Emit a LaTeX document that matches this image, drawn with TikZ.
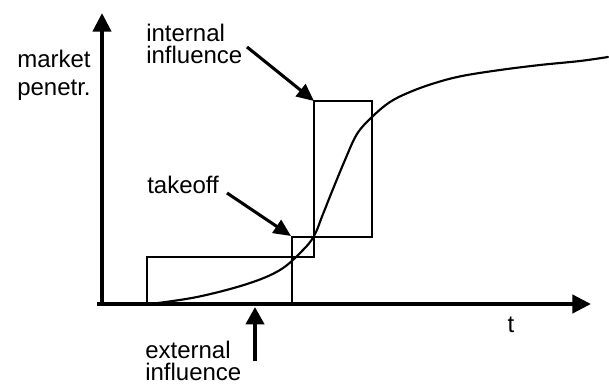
\documentclass[tikz,border=0pt]{standalone}
\usepackage{fontspec}
\setmainfont{Liberation Sans}
\usetikzlibrary{arrows.meta}
\begin{document}
\begin{tikzpicture}[x=0.75pt,y=-0.75pt,
  lbl/.style={anchor=base west,inner sep=0pt,font=\fontsize{18}{20}\selectfont},
  axis/.style={line width=3.2pt,-{Triangle[length=14pt,width=13.5pt]}},
  pointer/.style={line width=2.3pt,-{Triangle[length=13pt,width=11.5pt]}},
  frame/.style={line width=1.5pt,line join=miter},
  growth/.style={line width=1.6pt,line cap=round,line join=round}]
\useasboundingbox (0,0) rectangle (609,384);

% axes
\coordinate (xstart) at (97,304);
\coordinate (xend) at (591,304);
\coordinate (ybase) at (102,305);
\coordinate (yend) at (102,13);
\draw[axis] (ybase) -- (yend);
\draw[axis] (xstart) -- (xend);

% phase boxes
\draw[frame] (147,304) -- (147,257) -- (314,257) -- (314,101) -- (372,101)
  -- (372,237) -- (292,237) -- (292,304);

% diffusion curve
\draw[growth] plot[smooth,tension=0.6] coordinates {
  (150,304) (197,297) (247,284) (280,270) (302,251) (314,236)
  (323,214) (333,189) (345,160) (357,134) (372,117) (390,102)
  (410,92) (435,83) (462,76) (500,70) (540,65) (580,61) (608,57)};

% labels
\node[lbl] (m1) at (17,68) {market};
\node[lbl] (m2) at (17,96) {penetr.};
\node[lbl] (i1) at (146,42) {internal};
\node[lbl] (i2) at (146,64) {influence};
\node[lbl] (tk) at (147,194) {takeoff};
\node[lbl] (e1) at (145,358) {external};
\node[lbl] (e2) at (145,380) {influence};
\node[lbl,anchor=base] (tl) at (511,332) {t};

% pointers
\coordinate (ifrom) at (247,47);
\coordinate (ito) at (314,101);
\coordinate (tfrom) at (227,193);
\coordinate (tto) at (291,236);
\coordinate (efrom) at (255,361);
\coordinate (eto) at (255,307);
\draw[pointer] (ifrom) -- (ito);
\draw[pointer] (tfrom) -- (tto);
\draw[pointer,line width=3pt,-{Triangle[length=13pt,width=13.5pt]}] (efrom) -- (eto);
\end{tikzpicture}
\end{document}
